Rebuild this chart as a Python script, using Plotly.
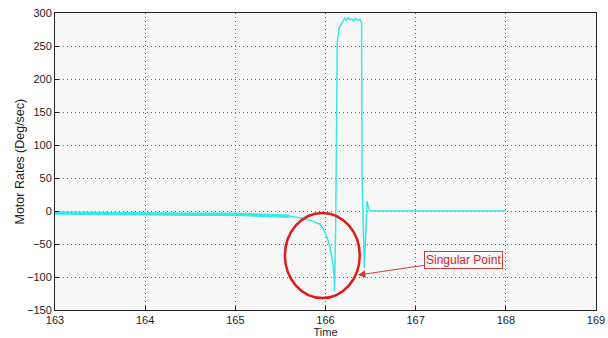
import plotly.graph_objects as go

# Early, slowly drifting (noisy / thick) part
t_early = [163.0, 163.5, 164.0, 164.5, 165.0, 165.3, 165.6]
v_early = [-3, -4, -4, -5, -5, -6, -8]

# Transition through the singular point
t_main = [165.6, 165.75, 165.85, 165.94, 166.0, 166.05, 166.08, 166.095, 166.1,
          166.112, 166.123, 166.13, 166.15, 166.18, 166.21, 166.23, 166.25, 166.27,
          166.29, 166.31, 166.33, 166.35, 166.37, 166.385, 166.40, 166.405,
          166.43, 166.445, 166.46, 166.475, 166.49, 166.52, 167.0, 168.0]
v_main = [-8, -11, -15, -20, -33, -55, -78, -100, -122,
          -30, 123, 255, 277, 285, 292, 289, 293, 290,
          291, 288, 292, 290, 289, 290, 285, 60,
          -86, -40, 15, 6, 1, 0, 0, 0]

x_ticks = [163, 164, 165, 166, 167, 168, 169]
y_ticks = [-150, -100, -50, 0, 50, 100, 150, 200, 250, 300]

circle_x = [165.55, 166.38]
circle_y = [-132, -3]

label_text = "Singular Point"
label_pos = (167.535, -73.5)
arrow_tip = (166.36, -97)

CYAN = "#38e8e8"
RED = "#dd1c1c"
FONT = "Liberation Sans, Arial"

fig = go.Figure()
fig.add_trace(go.Scatter(x=t_early, y=v_early, mode="lines",
                         line=dict(color=CYAN, width=3.5), showlegend=False))
fig.add_trace(go.Scatter(x=t_main, y=v_main, mode="lines",
                         line=dict(color=CYAN, width=1.5), showlegend=False))

fig.add_shape(type="circle", xref="x", yref="y",
              x0=circle_x[0], x1=circle_x[1], y0=circle_y[0], y1=circle_y[1],
              line=dict(color=RED, width=2.5))

fig.add_annotation(x=arrow_tip[0], y=arrow_tip[1], xref="x", yref="y",
                   ax=label_pos[0], ay=label_pos[1], axref="x", ayref="y",
                   text=label_text, showarrow=True, arrowhead=2, arrowsize=1.5,
                   arrowwidth=1, arrowcolor="#d03a3a",
                   font=dict(color="#cc2a2a", size=12, family=FONT),
                   bordercolor="#d03a3a", borderwidth=1, borderpad=1,
                   bgcolor="rgba(248,248,248,1)")

# y-axis title as rotated text
fig.add_annotation(x=0, y=0.5, xref="paper", yref="paper", xshift=-36,
                   xanchor="center", yanchor="middle", textangle=-90,
                   text="Motor Rates (Deg/sec)", showarrow=False,
                   font=dict(size=12.5, color="#222", family=FONT))

axis_common = dict(showline=True, linecolor="#222", linewidth=1, mirror=True,
                   ticks="inside", ticklen=4, tickcolor="#222",
                   showgrid=True, gridcolor="#666", griddash="1px,3px", gridwidth=1,
                   zeroline=False, automargin=False,
                   tickfont=dict(size=11, color="#222", family=FONT))

fig.update_xaxes(range=[163, 169], tickvals=x_ticks, **axis_common,
                 title=dict(text="Time", standoff=0,
                            font=dict(size=11, color="#222", family=FONT)))
fig.update_yaxes(range=[-150, 300], tickvals=y_ticks, **axis_common)

fig.update_layout(width=608, height=338, margin=dict(l=55, r=12, t=13, b=28),
                  paper_bgcolor="white", plot_bgcolor="#f7f7f7")

fig.write_html("out.html")
